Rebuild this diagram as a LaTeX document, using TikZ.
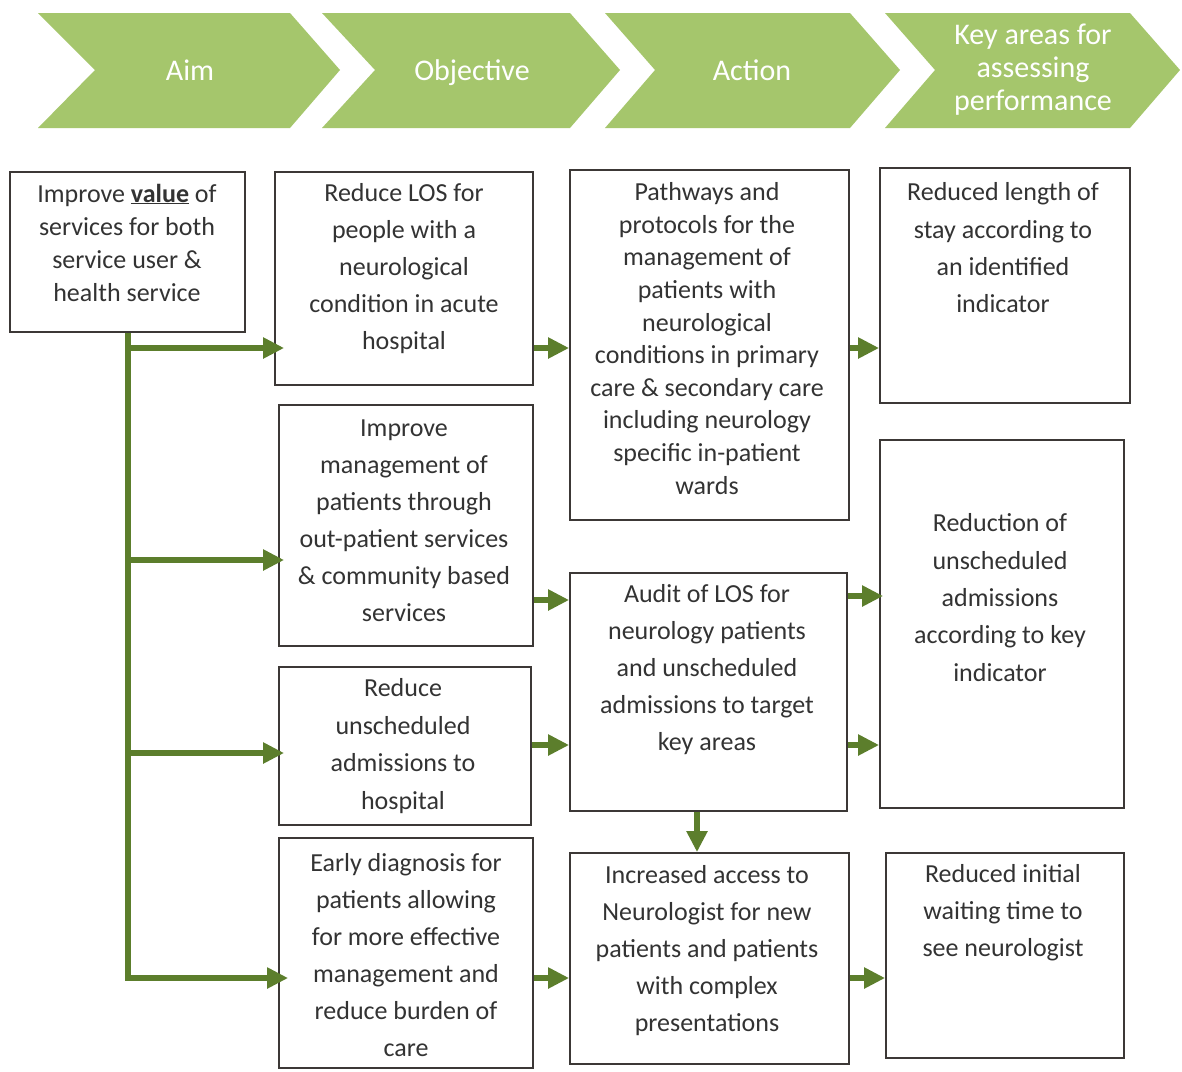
\documentclass[tikz,border=0pt]{standalone}
\usepackage{fontspec}
\setmainfont{Carlito}
\usetikzlibrary{arrows.meta}
\definecolor{hdrgreen}{HTML}{A5C66C}
\definecolor{arrgreen}{HTML}{5C7E2C}
\definecolor{boxcol}{HTML}{3C3836}
\definecolor{txtcol}{HTML}{333333}
\tikzset{
  chev/.style={fill=hdrgreen, draw=none},
  hdr/.style={text=white, align=center, font=\fontsize{30}{33}\selectfont, inner sep=0},
  boxn/.style={draw=boxcol, line width=1.8pt, inner sep=0, fill=white},
  txt/.style={text=txtcol, align=center, inner sep=0},
  gline/.style={draw=arrgreen, line width=6pt},
  garrow/.style={draw=arrgreen, line width=6pt, -{Triangle[length=21pt,width=20pt]}}
}
\begin{document}
\begin{tikzpicture}[x=1pt,y=-1pt]
\useasboundingbox (0,0) rectangle (1182,1071);
\fill[white] (0,0) rectangle (1182,1071);
% header chevrons
\fill[chev] (38,13) -- (290,13) -- (340,70) -- (290,128) -- (38,128) -- (95,70) -- cycle;
\fill[chev] (322,13) -- (570,13) -- (620,70) -- (570,128) -- (322,128) -- (375,70) -- cycle;
\fill[chev] (605,13) -- (850,13) -- (900,70) -- (850,128) -- (605,128) -- (655,70) -- cycle;
\fill[chev] (885,13) -- (1130,13) -- (1180,70) -- (1130,128) -- (885,128) -- (935,70) -- cycle;
\node[hdr] (h1) at (190,70) {Aim};
\node[hdr] (h2) at (472,73) {Objective};
\node[hdr] (h3) at (752,70) {Action};
\node[hdr] (h4) at (1033,70) {Key areas for\\assessing\\performance};
% boxes
\node[boxn, minimum width=235pt, minimum height=160pt] (aim) at (127.5,252) {};
\node[boxn, minimum width=258pt, minimum height=213pt] (o1) at (404,278.5) {};
\node[boxn, minimum width=254pt, minimum height=241pt] (o2) at (406,525.5) {};
\node[boxn, minimum width=252pt, minimum height=158pt] (o3) at (405,746) {};
\node[boxn, minimum width=254pt, minimum height=230pt] (o4) at (406,953) {};
\node[boxn, minimum width=279pt, minimum height=350pt] (a1) at (709.5,345) {};
\node[boxn, minimum width=277pt, minimum height=238pt] (a2) at (708.5,692) {};
\node[boxn, minimum width=279pt, minimum height=211pt] (a3) at (709.5,958.5) {};
\node[boxn, minimum width=250pt, minimum height=235pt] (k1) at (1005,285.5) {};
\node[boxn, minimum width=244pt, minimum height=368pt] (k2) at (1002,624) {};
\node[boxn, minimum width=238pt, minimum height=205pt] (k3) at (1005,955.5) {};
% texts
\node[txt, font=\fontsize{26}{33}\selectfont] (taim) at (127,242.5) {Improve \underline{\textbf{value}} of\\services for both\\service user \&\\health service};
\node[txt, font=\fontsize{26}{37}\selectfont] (to1) at (404,268.5) {Reduce LOS for\\people with a\\neurological\\condition in acute\\hospital};
\node[txt, font=\fontsize{26}{37}\selectfont] (to2) at (404,521) {Improve\\management of\\patients through\\out-patient services\\\& community based\\services};
\node[txt, font=\fontsize{26}{37.5}\selectfont] (to3) at (403,746) {Reduce\\unscheduled\\admissions to\\hospital};
\node[txt, font=\fontsize{26}{37}\selectfont] (to4) at (406,955) {Early diagnosis for\\patients allowing\\for more effective\\management and\\reduce burden of\\care};
\node[txt, font=\fontsize{26}{32.6}\selectfont] (ta1) at (707,338.5) {Pathways and\\protocols for the\\management of\\patients with\\neurological\\conditions in primary\\care \& secondary care\\including neurology\\specific in-patient\\wards};
\node[txt, font=\fontsize{26}{37}\selectfont] (ta2) at (707,670) {Audit of LOS for\\neurology patients\\and unscheduled\\admissions to target\\key areas};
\node[txt, font=\fontsize{26}{37}\selectfont] (ta3) at (707,951) {Increased access to\\Neurologist for new\\patients and patients\\with complex\\presentations};
\node[txt, font=\fontsize{26}{37.3}\selectfont] (tk1) at (1003,248) {Reduced length of\\stay according to\\an identified\\indicator};
\node[txt, font=\fontsize{26}{37.3}\selectfont] (tk2) at (1000,597.5) {Reduction of\\unscheduled\\admissions\\according to key\\indicator};
\node[txt, font=\fontsize{26}{37}\selectfont] (tk3) at (1003,913) {Reduced initial\\waiting time to\\see neurologist};
% connector rows
\coordinate (r1) at (127,348);
\coordinate (r2) at (127,560);
\coordinate (r3) at (127,753);
\coordinate (r4) at (127,978);
\coordinate (s2) at (0,600);
\coordinate (s3) at (0,745);
\coordinate (q2) at (0,596);
\coordinate (dn) at (697,0);
% trunk and branches
\draw[gline, -{Triangle[length=21pt,width=20pt]}, shorten >=-10pt] (aim.south) |- (o4.west |- r4);
\draw[garrow, shorten >=-10pt] (r1) -- (o1.west |- r1);
\draw[garrow, shorten >=-6pt] (r2) -- (o2.west |- r2);
\draw[garrow, shorten >=-6pt] (r3) -- (o3.west |- r3);
% objective -> action
\draw[garrow] (o1.east |- r1) -- (a1.west |- r1);
\draw[garrow] (o2.east |- s2) -- (a2.west |- s2);
\draw[garrow] (o3.east |- s3) -- (a2.west |- s3);
\draw[garrow] (o4.east |- r4) -- (a3.west |- r4);
% action -> key
\draw[garrow] (a1.east |- r1) -- (k1.west |- r1);
\draw[garrow, shorten >=-4pt] (a2.east |- q2) -- (k2.west |- q2);
\draw[garrow] (a2.east |- s3) -- (k2.west |- s3);
\draw[garrow] (a3.east |- r4) -- (k3.west |- r4);
% action -> action
\draw[garrow] (a2.south -| dn) -- (a3.north -| dn);
\end{tikzpicture}
\end{document}
